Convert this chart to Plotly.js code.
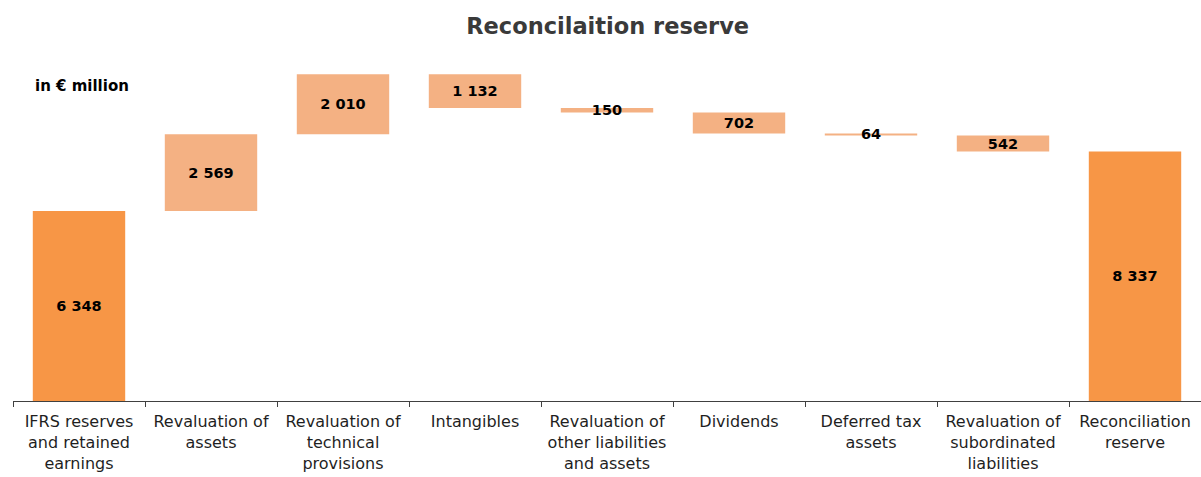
<!DOCTYPE html>
<html>
<head>
<meta charset="utf-8">
<script src="https://cdn.plot.ly/plotly-3.0.1.min.js"></script>
<style>html,body{margin:0;padding:0;background:#fff;}#chart{width:1201px;height:477px;}</style>
</head>
<body>
<div id="chart"></div>
<script>
const categories = [
  "IFRS reserves<br>and retained<br>earnings",
  "Revaluation of<br>assets",
  "Revaluation of<br>technical<br>provisions",
  "Intangibles",
  "Revaluation of<br>other liabilities<br>and assets",
  "Dividends",
  "Deferred tax<br>assets",
  "Revaluation of<br>subordinated<br>liabilities",
  "Reconciliation<br>reserve"
];
const values = [6348, 2569, 2010, -1132, -150, -702, -64, -542, 8337];
const measures = ["absolute","relative","relative","relative","relative","relative","relative","relative","total"];

function fmt(v){
  return String(Math.abs(v)).replace(/\B(?=(\d{3})+(?!\d))/g, " ");
}
const labels = values.map(fmt);

const deltaColor = "#F4B183";
const totalColor = "#F79646";

const trace = {
  type: "waterfall",
  x: categories,
  y: values,
  measure: measures,
  text: labels,
  textposition: "inside",
  insidetextanchor: "middle",
  constraintext: "none",
  textfont: {family: "DejaVu Sans, sans-serif", size: 14.5, color: "#000", weight: "bold"},
  increasing: {marker: {color: deltaColor}},
  decreasing: {marker: {color: deltaColor}},
  totals: {marker: {color: totalColor}},
  connector: {visible: false},
  width: 0.7,
  hoverinfo: "none"
};

const layout = {
  width: 1201, height: 477,
  margin: {l: 13, r: 0, t: 60, b: 76},
  paper_bgcolor: "#fff", plot_bgcolor: "#fff",
  showlegend: false,
  title: {text: "<b>Reconcilaition reserve</b>", x: 0.506, xanchor: "center", y: 0.945, yanchor: "middle",
    font: {family: "DejaVu Sans, sans-serif", size: 22.5, color: "#3a3a3a"}},
  xaxis: {
    showline: true, linecolor: "#404040", linewidth: 1,
    ticks: "outside", tickson: "boundaries", ticklen: 5, tickcolor: "#404040",
    ticklabelstandoff: 6,
    tickfont: {family: "DejaVu Sans, sans-serif", size: 16, color: "#1f1f1f"},
    showgrid: false, zeroline: false, fixedrange: true
  },
  yaxis: {range: [0, 11400], visible: false, showgrid: false, zeroline: false},
  annotations: [{
    text: "<b>in € million</b>", xref: "paper", yref: "paper", x: 0.017, y: 0.924,
    xanchor: "left", yanchor: "middle", showarrow: false,
    font: {family: "DejaVu Sans, sans-serif", size: 15, color: "#000"}
  }]
};

Plotly.newPlot("chart", [trace], layout, {displayModeBar: false, staticPlot: true});
</script>
</body>
</html>
